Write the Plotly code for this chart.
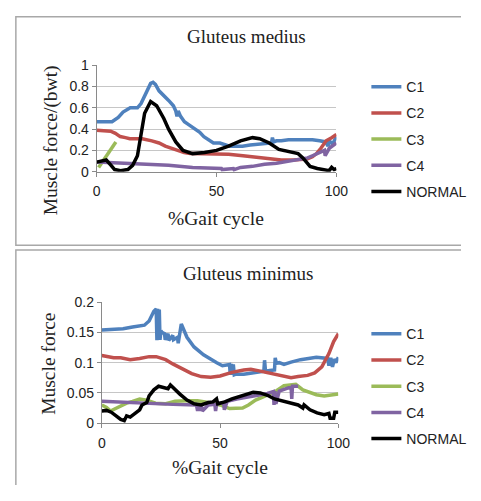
import plotly.graph_objects as go

# ---------------- Data: Gluteus medius (top) ----------------
gm_c1_x = [0, 3, 6.4, 9, 11, 14, 17, 18.5, 20, 21.5, 22.5, 23.5, 24.5, 26, 28, 30, 32, 33, 33.5, 34, 35, 36.6, 38.5, 40.7, 43, 44.7, 46.5, 48.7, 51.4, 53, 55.4, 58, 60.8, 64, 67.5, 70, 72.9, 73.3, 73.8, 75, 77, 80, 85, 90, 93, 95.5, 96.5, 97, 98.4, 99.2, 100]
gm_c1_y = [0.47, 0.47, 0.47, 0.51, 0.56, 0.60, 0.60, 0.64, 0.71, 0.78, 0.83, 0.84, 0.82, 0.76, 0.72, 0.67, 0.62, 0.57, 0.52, 0.57, 0.52, 0.47, 0.44, 0.41, 0.37, 0.33, 0.30, 0.27, 0.27, 0.26, 0.24, 0.24, 0.24, 0.25, 0.26, 0.26, 0.27, 0.32, 0.28, 0.29, 0.29, 0.30, 0.30, 0.30, 0.29, 0.28, 0.24, 0.29, 0.26, 0.30, 0.33]

gm_c2_x = [0, 3, 5.8, 7.8, 9.8, 12, 13.8, 16, 19, 23, 26, 28.6, 31, 34, 36.5, 39, 45, 50, 55, 61, 65, 69, 73, 77, 82, 87.7, 90, 91.7, 93.5, 95.7, 98, 100]
gm_c2_y = [0.39, 0.385, 0.38, 0.36, 0.33, 0.32, 0.31, 0.31, 0.31, 0.29, 0.27, 0.24, 0.22, 0.20, 0.18, 0.17, 0.17, 0.17, 0.165, 0.15, 0.14, 0.13, 0.12, 0.11, 0.11, 0.12, 0.14, 0.17, 0.22, 0.29, 0.32, 0.35]

gm_c3_x = [0.8, 2, 4, 6, 8]
gm_c3_y = [0.04, 0.08, 0.15, 0.22, 0.28]

gm_c4_x = [0, 5, 10, 20, 30, 40, 45, 50, 52, 52.3, 55, 57, 57.3, 60, 65, 70, 75, 80, 85, 88, 90, 93, 95, 95.3, 97, 100]
gm_c4_y = [0.09, 0.085, 0.08, 0.07, 0.06, 0.04, 0.035, 0.03, 0.03, 0.02, 0.03, 0.03, 0.02, 0.04, 0.05, 0.07, 0.08, 0.10, 0.12, 0.13, 0.15, 0.18, 0.20, 0.15, 0.22, 0.27]

gm_n_x = [0, 2, 4, 6, 7.5, 10, 13, 15, 17, 18.5, 20, 22.5, 25, 28, 30, 33, 36, 40, 45, 50, 55, 60, 65, 68, 72, 76, 80, 84, 86, 89, 92, 95, 97, 98, 99, 100]
gm_n_y = [0.09, 0.10, 0.11, 0.06, 0.02, 0.01, 0.02, 0.06, 0.15, 0.35, 0.55, 0.66, 0.62, 0.50, 0.40, 0.28, 0.20, 0.17, 0.18, 0.20, 0.24, 0.29, 0.32, 0.31, 0.27, 0.21, 0.19, 0.17, 0.13, 0.05, 0.03, 0.02, 0.01, 0.04, 0.02, 0.03]

# ---------------- Data: Gluteus minimus (bottom) ----------------
gn_c1_x = [0, 5, 9, 13, 18, 20, 22, 23, 23.3, 23.6, 24, 24.3, 24.6, 25, 25.4, 26.5, 26.8, 28, 28.3, 30, 30.3, 32, 32.3, 33.6, 36, 39, 43, 48.6, 51, 54, 54.3, 54.8, 55.2, 55.6, 56, 56.7, 60, 63.5, 67, 68.5, 68.8, 69.2, 71, 73, 73.3, 73.8, 75, 77, 80, 84, 90.7, 94, 95.5, 96, 96.8, 97.5, 98.3, 99, 100]
gn_c1_y = [0.154, 0.155, 0.156, 0.159, 0.162, 0.169, 0.185, 0.189, 0.137, 0.189, 0.140, 0.188, 0.138, 0.153, 0.150, 0.148, 0.138, 0.148, 0.137, 0.145, 0.138, 0.142, 0.132, 0.164, 0.142, 0.126, 0.113, 0.100, 0.095, 0.097, 0.080, 0.098, 0.080, 0.097, 0.080, 0.081, 0.081, 0.083, 0.085, 0.086, 0.104, 0.086, 0.087, 0.088, 0.108, 0.099, 0.100, 0.097, 0.101, 0.105, 0.109, 0.108, 0.107, 0.095, 0.108, 0.093, 0.106, 0.100, 0.109]

gn_c2_x = [0, 3, 5, 8, 12, 16, 20, 23, 27, 30, 34, 38, 42, 46, 50, 55, 60, 63, 67, 72, 76, 80, 83, 87, 90, 93, 96, 98, 100]
gn_c2_y = [0.112, 0.110, 0.108, 0.108, 0.105, 0.107, 0.110, 0.110, 0.105, 0.098, 0.090, 0.082, 0.077, 0.076, 0.078, 0.084, 0.088, 0.089, 0.086, 0.082, 0.078, 0.075, 0.077, 0.079, 0.083, 0.093, 0.115, 0.135, 0.148]

gn_c3_x = [0, 2, 3.7, 7, 10.5, 13, 16, 19, 22.7, 27, 31, 36, 40.4, 45, 50, 54, 57, 59.5, 62, 65, 68, 71.7, 74, 77, 80, 82, 85, 88, 90.7, 94, 97, 100]
gn_c3_y = [0.030, 0.026, 0.020, 0.027, 0.033, 0.036, 0.040, 0.038, 0.033, 0.032, 0.036, 0.037, 0.037, 0.034, 0.030, 0.024, 0.025, 0.025, 0.030, 0.038, 0.043, 0.049, 0.054, 0.062, 0.064, 0.064, 0.055, 0.050, 0.047, 0.045, 0.047, 0.048]

gn_c4_x = [0, 10, 20, 30, 40, 40.5, 41, 41.5, 42, 42.5, 45, 47.8, 48.1, 48.5, 50, 51.5, 51.8, 53, 57, 62, 67, 70, 72.5, 72.8, 73.2, 73.6, 75, 78, 80, 80.3, 80.6, 83]
gn_c4_y = [0.036, 0.034, 0.032, 0.031, 0.030, 0.020, 0.030, 0.020, 0.030, 0.020, 0.030, 0.031, 0.020, 0.031, 0.033, 0.034, 0.022, 0.036, 0.040, 0.043, 0.047, 0.049, 0.052, 0.030, 0.053, 0.032, 0.053, 0.058, 0.060, 0.040, 0.061, 0.061]

gn_n_x = [0, 2, 4, 6, 8, 9.5, 10.5, 12, 14, 16, 17, 19, 20, 22, 24, 26, 28, 29, 31, 33, 36, 39, 42, 45, 47, 48.5, 49, 52, 55, 60, 64, 67, 70, 73, 77, 80, 83, 85, 85.5, 88, 91, 94, 96, 96.5, 98, 98.5, 100]
gn_n_y = [0.020, 0.021, 0.018, 0.012, 0.006, 0.004, 0.012, 0.010, 0.016, 0.022, 0.030, 0.034, 0.045, 0.055, 0.061, 0.059, 0.057, 0.063, 0.055, 0.048, 0.038, 0.032, 0.030, 0.034, 0.035, 0.040, 0.032, 0.035, 0.040, 0.046, 0.051, 0.050, 0.046, 0.040, 0.036, 0.034, 0.030, 0.025, 0.030, 0.022, 0.017, 0.014, 0.016, 0.008, 0.008, 0.018, 0.018]

names = ["C1", "C2", "C3", "C4", "NORMAL"]
colors = ["#4F81BD", "#C0504D", "#9BBB59", "#8064A2", "#000000"]
top_series = [(gm_c1_x, gm_c1_y), (gm_c2_x, gm_c2_y), (gm_c3_x, gm_c3_y), (gm_c4_x, gm_c4_y), (gm_n_x, gm_n_y)]
bot_series = [(gn_c1_x, gn_c1_y), (gn_c2_x, gn_c2_y), (gn_c3_x, gn_c3_y), (gn_c4_x, gn_c4_y), (gn_n_x, gn_n_y)]

# page is 481x501; the page body keeps its default 8px margin, so the figure is 465x485
M = 8
W, H = 481 - 2 * M, 501 - 2 * M
def px(x):
    return (x - M) / W
def py(y):
    return 1 - (y - M) / H

fig = go.Figure()
for i, (n, c) in enumerate(zip(names, colors)):
    xs, ys = top_series[i]
    fig.add_trace(go.Scatter(x=xs, y=ys, mode="lines", name=n, line=dict(color=c, width=3.5),
                             xaxis="x", yaxis="y", legend="legend", legendgroup="t" + n))
for i, (n, c) in enumerate(zip(names, colors)):
    xs, ys = bot_series[i]
    fig.add_trace(go.Scatter(x=xs, y=ys, mode="lines", name=n, line=dict(color=c, width=3.5),
                             xaxis="x2", yaxis="y2", legend="legend2", legendgroup="b" + n))

sans = "Liberation Sans, Arial, sans-serif"
serif = "Liberation Serif, Times New Roman, serif"
tickfont = dict(family=sans, size=14, color="#222")
grid = "#c6c6c6"
axline = "#8a8a8a"

common_x = dict(range=[0, 100], tickvals=[0, 50, 100], showgrid=False, showline=True, linecolor=axline,
                linewidth=1, ticks="outside", ticklen=4, tickcolor=axline, tickfont=tickfont,
                ticklabelstandoff=3, zeroline=False, fixedrange=True)
common_y = dict(showgrid=True, gridcolor=grid, gridwidth=1, showline=True, linecolor=axline, linewidth=1,
                ticks="outside", ticklen=4, tickcolor=axline, tickfont=tickfont, zeroline=False, fixedrange=True)

fig.update_layout(
    width=W, height=H, margin=dict(l=0, r=0, t=0, b=0),
    paper_bgcolor="white", plot_bgcolor="white",
    xaxis=dict(domain=[px(95.7), px(344)], anchor="y", **common_x),
    yaxis=dict(domain=[py(169), py(59)], anchor="x", range=[0, 1], tickvals=[0, 0.2, 0.4, 0.6, 0.8, 1],
               ticktext=["0", "0.2", "0.4", "0.6", "0.8", "1"], **common_y),
    xaxis2=dict(domain=[px(101), px(346)], anchor="y2", **common_x),
    yaxis2=dict(domain=[py(429), py(304)], anchor="x2", range=[0, 0.2], tickvals=[0, 0.05, 0.1, 0.15, 0.2],
                ticktext=["0", "0.05", "0.1", "0.15", "0.2"], **common_y),
    legend=dict(x=px(375), y=py(65), xanchor="left", yanchor="top", traceorder="grouped", tracegroupgap=5,
                font=dict(family=sans, size=14, color="#222"), bgcolor="rgba(0,0,0,0)"),
    legend2=dict(x=px(375), y=py(320.5), xanchor="left", yanchor="top", traceorder="grouped", tracegroupgap=5,
                 font=dict(family=sans, size=14, color="#222"), bgcolor="rgba(0,0,0,0)"),
    showlegend=True,
)

# panel borders (right side / bottom run off the picture, so only the visible edges are drawn)
border = dict(color="#a8a8a8", width=1.5)
x0, x1 = px(12), 1.0
fig.add_shape(type="path", xref="paper", yref="paper",
              path=f"M {x1} {py(8.8)} L {x0} {py(8.8)} L {x0} {py(245)} L {x1} {py(245)}",
              line=border, layer="below")
fig.add_shape(type="path", xref="paper", yref="paper",
              path=f"M {x1} {py(250)} L {x0} {py(250)} L {x0} 0",
              line=border, layer="below")

ann_font_title = dict(family=serif, size=19, color="#222")
ann_font_axis = dict(family=serif, size=19.5, color="#222")
def ann(text, x, y, font, angle=0):
    fig.add_annotation(text=text, x=px(x), y=py(y), xref="paper", yref="paper", showarrow=False,
                       xanchor="center", yanchor="middle", textangle=angle, font=font)

ann("Gluteus medius", 251, 29, ann_font_title)
ann("Gluteus minimus", 252, 274, ann_font_title)
ann("%Gait cycle", 219, 217, ann_font_axis)
ann("%Gait cycle", 223, 475, ann_font_axis)
ann("Muscle force/(bwt)", 48, 137, ann_font_axis, -90)
ann("Muscle force", 45, 368, ann_font_axis, -90)

fig.write_html("out.html", config={"displayModeBar": False})
